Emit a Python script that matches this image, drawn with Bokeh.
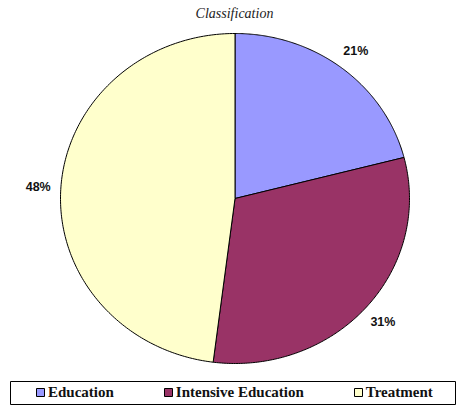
import numpy as np
from bokeh.plotting import figure
from bokeh.models import Range1d, Legend, LegendItem, ColumnDataSource
from bokeh.core.properties import value
from bokeh.embed import file_html
from bokeh.resources import INLINE

categories = ["Education", "Intensive Education", "Treatment"]
shares = [21, 31, 48]
colors = ["#9999FF", "#993366", "#FFFFCC"]
title_text = "Classification"

W, H = 456, 405
p = figure(width=W, height=H, output_backend="svg", toolbar_location=None,
           x_range=Range1d(0, W), y_range=Range1d(H, 0),
           min_border=0, outline_line_color=None)
p.axis.visible = False
p.grid.visible = False
p.background_fill_color = "white"
p.border_fill_color = "white"

cx, cy, rx, ry = 234.5, 198.0, 174.5, 165.0
total = float(sum(shares))
fr = np.cumsum([0] + shares) / total

xs, ys, lx, ly, labels = [], [], [], [], []
for i, s in enumerate(shares):
    t = np.linspace(fr[i], fr[i + 1], 200) * 2 * np.pi
    px = np.concatenate([[cx], cx + rx * np.sin(t), [cx]])
    py = np.concatenate([[cy], cy - ry * np.cos(t), [cy]])
    xs.append(list(px))
    ys.append(list(py))
    m = (fr[i] + fr[i + 1]) / 2 * 2 * np.pi
    lx.append(cx + 1.13 * rx * np.sin(m))
    ly.append(cy - 1.13 * ry * np.cos(m))
    labels.append(f"{s}%")

src = ColumnDataSource(dict(xs=xs, ys=ys, color=colors, name=categories))
r = p.patches("xs", "ys", source=src, fill_color="color", line_color="black", line_width=1)

p.text(x=lx, y=ly, text=labels, text_align="center", text_baseline="middle",
       text_font=value("Liberation Sans"), text_font_style="bold",
       text_font_size="12.5px", text_color="#111111")

p.text(x=[234], y=[13], text=[title_text], text_align="center", text_baseline="middle",
       text_font=value("Liberation Serif"), text_font_style="italic",
       text_font_size="14px", text_color="#222222")

# legend box
p.quad(left=[10], right=[455], top=[381], bottom=[404], fill_color="white",
       line_color="black", line_width=1)

items = [LegendItem(label=c, renderers=[r], index=i) for i, c in enumerate(categories)]
leg = Legend(items=items, orientation="horizontal", location=(35, 3),
             glyph_width=10, glyph_height=10, label_standoff=3, spacing=49,
             padding=0, margin=0, border_line_color=None, background_fill_alpha=0,
             label_text_font="Liberation Serif", label_text_font_style="bold",
             label_text_font_size="15px", label_height=20, label_text_baseline="middle",
             label_text_color="#111111")
p.add_layout(leg, "center")

open("out.html", "w").write(file_html(p, INLINE))
